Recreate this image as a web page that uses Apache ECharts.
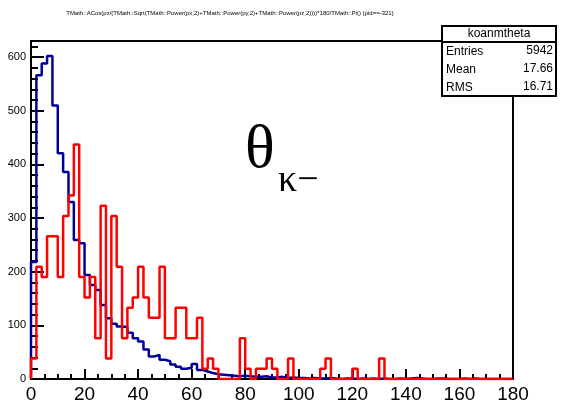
<!DOCTYPE html>
<html>
<head>
<meta charset="utf-8">
<script src="https://cdn.jsdelivr.net/npm/echarts@6/dist/echarts.min.js"></script>
<style>
html, body { margin: 0; padding: 0; background: #fff; }
#main { width: 568px; height: 412px; }
</style>
</head>
<body>
<div id="main"></div>
<script>
// histogram binning (degrees)
var xMin = 0;
var xMax = 180;
var binWidth = 2;

// K- theta, counts per 2 degree bin
var blueCounts = [
    218, 566, 588, 602, 510, 421, 386, 330, 259, 253,
    194, 175, 166, 138, 113, 103, 98, 97, 86, 76,
    70, 55, 42, 45, 36, 33, 27, 23, 19, 21,
    28, 17, 14, 11, 9, 8, 7, 6, 5, 6,
    5, 4, 4, 5, 3, 3, 4, 2, 3, 2,
    2, 1, 2, 1, 1, 2, 1, 0, 1, 1,
    0, 1, 0, 1, 0, 1, 0, 0, 1, 0,
    1, 2, 1, 0, 0, 1, 1, 0, 0, 0,
    1, 0, 1, 0, 0, 0, 0, 0, 0, 0
];

// second (scaled) sample
var redCounts = [
    38, 209, 190, 266, 266, 190, 304, 342, 437, 190,
    152, 190, 76, 323, 38, 304, 209, 76, 133, 152,
    209, 152, 114, 114, 209, 76, 76, 133, 133, 76,
    76, 114, 19, 38, 19, 0, 0, 0, 0, 76,
    19, 0, 19, 19, 38, 19, 0, 0, 38, 0,
    0, 0, 0, 0, 19, 38, 0, 0, 0, 0,
    19, 0, 0, 0, 0, 38, 0, 0, 0, 0,
    0, 0, 0, 0, 0, 0, 0, 0, 0, 0,
    0, 0, 0, 0, 0, 0, 0, 0, 0, 0
];

var statNames = ['Entries', 'Mean', 'RMS'];
var statValues = ['5942', '17.66', '16.71'];
var histName = 'koanmtheta';
var titleText = 'TMath::ACos(pz/(TMath::Sqrt(TMath::Power(px,2)+TMath::Power(py,2)+TMath::Power(pz,2))))*180/TMath::Pi() {pid==-321}';

var narrow = '"Liberation Sans Narrow", "Liberation Sans", Arial, sans-serif';

// outline of a histogram, like ROOT draws it
function histOutline(counts) {
    var pts = [[xMin, 0]];
    for (var i = 0; i < counts.length; i++) {
        pts.push([xMin + i * binWidth, counts[i]]);
    }
    pts.push([xMin + counts.length * binWidth, counts[counts.length - 1]]);
    pts.push([xMin + counts.length * binWidth, 0]);
    return pts;
}

var myChart = echarts.init(document.getElementById('main'), null, {renderer: 'canvas'});

var statChildren = [
    {type: 'rect', shape: {x: 442, y: 26, width: 114, height: 70},
        style: {fill: '#fff', stroke: '#000', lineWidth: 2}},
    {type: 'line', shape: {x1: 442, y1: 42, x2: 556, y2: 42},
        style: {stroke: '#000', lineWidth: 2}},
    {type: 'text', x: 499, y: 34,
        style: {text: histName, font: '12px ' + narrow, fill: '#000', textAlign: 'center', textVerticalAlign: 'middle'}}
];
for (var s = 0; s < statNames.length; s++) {
    statChildren.push({type: 'text', x: 446, y: 52 + s * 18,
        style: {text: statNames[s], font: '12px ' + narrow, fill: '#000', textAlign: 'left', textVerticalAlign: 'middle'}});
    statChildren.push({type: 'text', x: 553, y: 51 + s * 18,
        style: {text: statValues[s], font: '12px ' + narrow, fill: '#000', textAlign: 'right', textVerticalAlign: 'middle'}});
}

var option = {
    animation: false,
    backgroundColor: '#fff',
    grid: {
        left: 31, right: 55, top: 41, bottom: 33,
        show: true, borderColor: '#000', borderWidth: 2, backgroundColor: 'transparent'
    },
    xAxis: {
        type: 'value',
        min: xMin, max: xMax, interval: 20,
        axisLine: {show: true, onZero: false, lineStyle: {color: '#000', width: 2}},
        axisTick: {show: true, inside: true, length: 10, lineStyle: {color: '#000', width: 2}},
        minorTick: {show: true, splitNumber: 4, length: 5, lineStyle: {color: '#000', width: 2}},
        splitLine: {show: false},
        axisLabel: {color: '#000', fontFamily: narrow, fontSize: 19, margin: 6}
    },
    yAxis: {
        type: 'value',
        min: 0, max: 630, interval: 100,
        axisLine: {show: true, lineStyle: {color: '#000', width: 2}},
        axisTick: {show: true, inside: true, length: 13, lineStyle: {color: '#000', width: 2}},
        minorTick: {show: true, splitNumber: 5, length: 7, lineStyle: {color: '#000', width: 2}},
        splitLine: {show: false},
        axisLabel: {color: '#000', fontFamily: narrow, fontSize: 11, margin: 5, showMaxLabel: false}
    },
    series: [
        {
            name: 'blue', type: 'line', step: 'end', symbol: 'none',
            data: histOutline(blueCounts),
            lineStyle: {color: '#000099', width: 2.5},
            z: 2
        },
        {
            name: 'red', type: 'line', step: 'end', symbol: 'none',
            data: histOutline(redCounts),
            lineStyle: {color: '#ff0000', width: 2.5},
            z: 3
        }
    ],
    graphic: [
        {type: 'text', x: 230, y: 13,
            style: {text: titleText, font: '6px ' + narrow, fill: '#000', textAlign: 'center', textVerticalAlign: 'middle'}},
        {type: 'group', children: statChildren, z: 10},
        {type: 'text', x: 245, y: 120,
            style: {text: 'θ', font: '62px "Liberation Serif", serif', fill: '#000'}},
        {type: 'text', x: 278, y: 162,
            style: {text: 'κ−', font: '38px "Liberation Serif", serif', fill: '#000'}}
    ]
};
myChart.setOption(option);
</script>
</body>
</html>
